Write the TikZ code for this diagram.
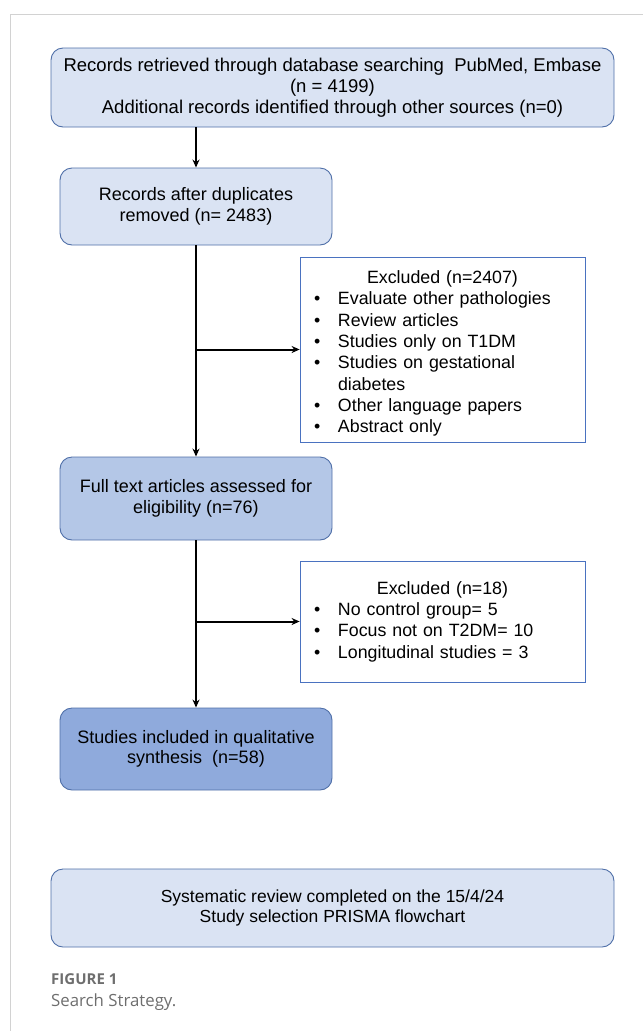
\documentclass[tikz,border=0pt]{standalone}
\usepackage{fontspec}
\setmainfont{Liberation Sans}
\newfontfamily\capfont{Open Sans}
\usetikzlibrary{positioning}
\usetikzlibrary{arrows.meta}
\definecolor{boxline}{HTML}{4F6FA8}
\definecolor{exline}{HTML}{4A72C0}
\definecolor{fillA}{HTML}{DAE3F3}
\definecolor{fillB}{HTML}{B4C7E7}
\definecolor{fillC}{HTML}{8FAADC}
\definecolor{capgray}{HTML}{6E6E6E}
\newcommand{\bul}[1]{\makebox[24pt][l]{\textbullet}#1}
\tikzset{x=1pt, y=-1pt,
flowbox/.style={ % rounded boxes of the main flow
draw=boxline,
line width=0.9pt,
rounded corners=12pt,
align=center,
inner sep=0pt,
font=\fontsize{18}{20.5}\selectfont},
exbox/.style={ % boxes of excluded records
draw=exline,
line width=0.8pt,
fill=white,
text width=257pt,
inner xsep=14pt,
inner ysep=0pt,
align=left,
font=\fontsize{17.8}{21.3}\selectfont},
flow/.style={ % connectors
draw,
line width=2pt,
-{Stealth[length=8pt,width=7pt]}}}
\begin{document}
\begin{tikzpicture}
\useasboundingbox (0,0) rectangle (643,1031);
% page frame
\draw[gray!35, line width=0.8pt] (10,1031) -- (10,14) -- (643,14);
\node[flowbox, fill=fillA, minimum width=563pt, minimum height=79pt, font=\fontsize{18.5}{21}\selectfont] (search) at (332.5,87.5)
{Records retrieved through database searching\ \ PubMed, Embase\\(n = 4199)\\Additional records identified through other sources (n=0)};
\node[flowbox, fill=fillA, minimum width=272pt, minimum height=77pt] (dedup) at (196,206.5)
{Records after duplicates\\removed (n= 2483)};
\node[exbox, minimum height=185pt] (excl1) at (442.5,349.5)
{\makebox[\linewidth]{\rule{0pt}{21pt}Excluded (n=2407)}\\
\bul{Evaluate other pathologies}\\
\bul{Review articles}\\
\bul{Studies only on T1DM}\\
\bul{Studies on gestational}\\
\hspace*{24pt}diabetes\\
\bul{Other language papers}\\
\bul{Abstract only}};
\node[flowbox, fill=fillB, minimum width=272pt, minimum height=83pt] (full) at (196,498.5)
{Full text articles assessed for\\eligibility (n=76)};
\node[exbox, minimum height=121pt] (excl2) at (442.5,621.5)
{\makebox[\linewidth]{Excluded (n=18)}\\
\bul{No control group= 5}\\
\bul{Focus not on T2DM= 10}\\
\bul{Longitudinal studies = 3}\\[6pt]};
\node[flowbox, fill=fillC, minimum width=272pt, minimum height=82pt] (incl) at (196,749)
{Studies included in qualitative\\synthesis\ \ (n=58)};
\node[flowbox, fill=fillA, minimum width=563pt, minimum height=78pt, font=\fontsize{17.5}{20.5}\selectfont] (done) at (332.5,908)
{Systematic review completed on the 15/4/24\\Study selection PRISMA flowchart};
% caption
\node[anchor=base west, inner sep=0pt, text=capgray, font=\capfont\bfseries\fontsize{15}{16}\selectfont] (figno) at (51,984) {FIGURE 1};
\node[anchor=base west, inner sep=0pt, text=capgray, font=\capfont\fontsize{16.8}{18}\selectfont] (figcap) at (51,1006) {Search Strategy.};
% connectors
\draw[flow] (search.south -| dedup.north) -- (dedup.north);
\draw[flow] (dedup) -- (full);
\draw[flow] (dedup.south |- excl1.west) -- (excl1.west);
\draw[flow] (full) -- (incl);
\draw[flow] (full.south |- excl2.west) -- (excl2.west);
\end{tikzpicture}
\end{document}
